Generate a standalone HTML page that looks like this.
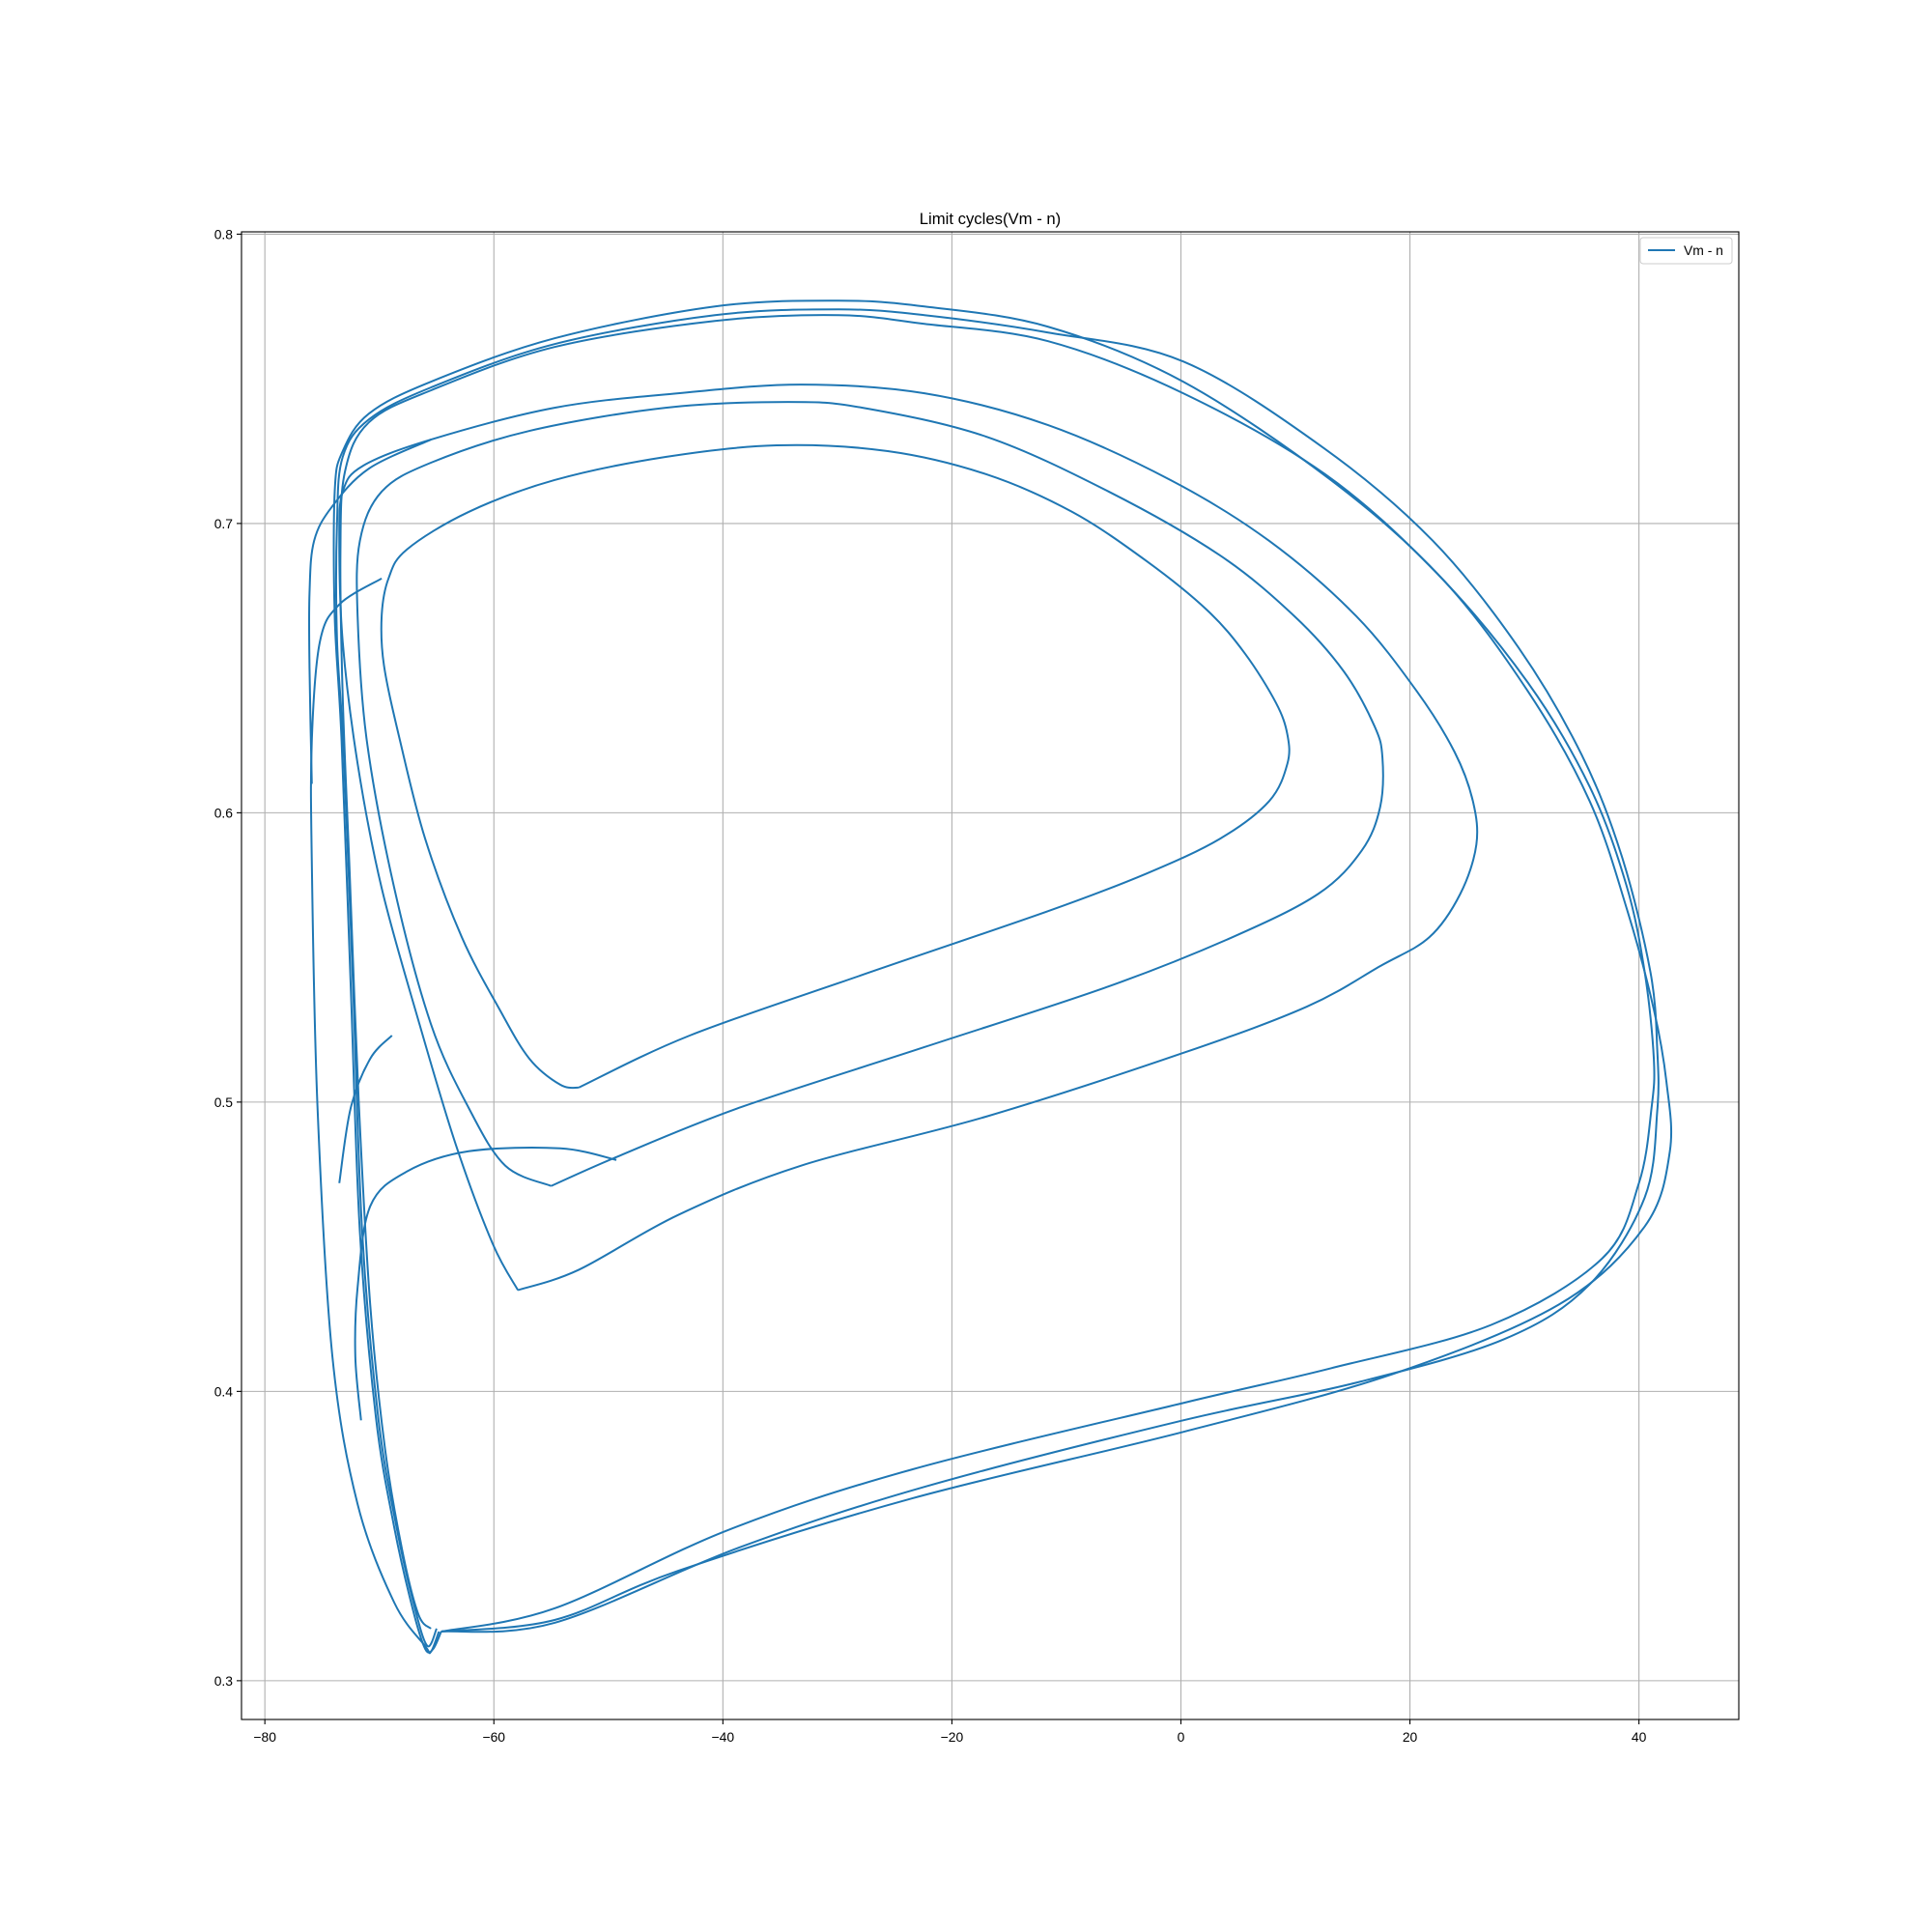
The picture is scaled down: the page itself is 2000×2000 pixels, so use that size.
<!DOCTYPE html>
<html><head><meta charset="utf-8"><style>
html,body{margin:0;padding:0;background:#fff;}
svg{display:block;font-family:"Liberation Sans","DejaVu Sans",sans-serif;}
</style></head><body>
<svg id="chart" width="2000" height="2000" xmlns="http://www.w3.org/2000/svg">
<rect width="2000" height="2000" fill="#fff"/>
<g id="grid"></g>
<g id="plot"></g>
<g id="axes"></g>
<text x="1025" y="232" text-anchor="middle" font-size="16.7">Limit cycles(Vm - n)</text>
<g>
<rect x="1698" y="246" width="95" height="27" fill="#fff" stroke="#ccc" rx="3"/>
<line x1="1706" y1="259" x2="1734" y2="259" stroke="#1f77b4" stroke-width="2"/>
<text x="1743" y="264" font-size="13.9">Vm - n</text>
</g>
</svg>
<script>
const xTicks=[-80,-60,-40,-20,0,20,40];
const yTicks=[0.3,0.4,0.5,0.6,0.7,0.8];
const xTickLabels=["−80","−60","−40","−20","0","20","40"];
const yTickLabels=["0.3","0.4","0.5","0.6","0.7","0.8"];
// outermost cycle (lowest bottom path)
const loopCV=[-64.6,-54.7,-43.9,-23.5,0.2,18.5,33.0,40.5,42.7,42.4,41.3,39.0,35.7,30.3,22.8,13.1,0.2,-11.6,-22.4,-29.9,-40.7,-54.7,-65.5,-70.9,-73.2,-73.9,-73.9,-73.3,-72.5,-71.7,-70.3,-68.7,-67.1,-66.0,-65.3,-64.6];
const loopCN=[0.317,0.321,0.338,0.363,0.386,0.406,0.430,0.457,0.483,0.507,0.532,0.566,0.604,0.642,0.681,0.715,0.749,0.768,0.775,0.777,0.775,0.764,0.749,0.738,0.725,0.711,0.668,0.625,0.540,0.455,0.391,0.353,0.325,0.311,0.311,0.317];
const loopBV=[-64.6,-54.7,-38.6,-22.4,0.2,15.3,28.2,35.7,40.5,41.6,41.6,41.0,38.5,35.0,29.5,22.0,12.5,0.2,-11.6,-22.4,-29.9,-40.7,-54.7,-65.5,-70.9,-73.2,-73.7,-73.7,-73.1,-72.3,-71.5,-70.1,-68.5,-66.9,-65.8,-65.0];
const loopBN=[0.317,0.320,0.346,0.367,0.390,0.403,0.418,0.437,0.467,0.497,0.518,0.545,0.585,0.620,0.657,0.694,0.726,0.756,0.766,0.772,0.774,0.772,0.762,0.747,0.736,0.723,0.700,0.660,0.620,0.540,0.455,0.391,0.353,0.325,0.312,0.318];
const loopAV=[-64.6,-54.7,-39.6,-23.5,0.2,13.1,27.1,36.8,40.0,41.1,41.3,40.5,38.9,35.7,30.3,22.3,12.6,0.2,-11.6,-22.4,-29.9,-40.7,-54.7,-65.5,-70.9,-73.0,-73.4,-73.2,-72.6,-71.8,-70.8,-69.5,-68.0,-66.6,-65.5];
const loopAN=[0.317,0.325,0.352,0.373,0.396,0.408,0.423,0.446,0.472,0.498,0.515,0.545,0.575,0.609,0.645,0.683,0.717,0.745,0.763,0.769,0.772,0.770,0.761,0.746,0.735,0.718,0.690,0.640,0.580,0.500,0.430,0.380,0.345,0.323,0.318];
// inner cycles
const loop4V=[-57.9,-52.6,-43.9,-33.2,-17.0,0.2,11.0,17.4,21.7,24.4,25.8,25.5,23.9,20.6,15.3,7.7,-0.9,-11.6,-22.4,-33.2,-43.9,-54.7,-65.5,-71.4,-73.2,-73.5,-73.2,-71.9,-69.8,-66.5,-63.3,-60.1,-57.9];
const loop4N=[0.435,0.442,0.461,0.478,0.495,0.517,0.533,0.547,0.557,0.572,0.589,0.604,0.621,0.642,0.668,0.694,0.715,0.734,0.745,0.748,0.745,0.740,0.729,0.720,0.711,0.694,0.659,0.617,0.574,0.527,0.485,0.451,0.435];
const loop5V=[-55.0,-49.3,-38.6,-22.4,-6.3,4.5,12.0,15.8,17.4,17.6,16.9,14.2,9.9,3.4,-6.3,-17.0,-27.8,-34.3,-45.0,-56.9,-65.5,-69.8,-71.7,-71.9,-71.1,-68.7,-65.5,-62.2,-59.0,-55.0];
const loop5N=[0.471,0.481,0.498,0.519,0.540,0.557,0.572,0.587,0.602,0.619,0.630,0.649,0.668,0.689,0.711,0.730,0.740,0.742,0.740,0.732,0.721,0.711,0.694,0.668,0.625,0.574,0.527,0.498,0.478,0.471];
const loop6V=[-52.6,-42.9,-27.8,-11.6,-3.0,3.4,7.7,9.3,9.3,8.3,5.6,2.3,-3.0,-9.5,-17.0,-25.6,-35.3,-45.0,-54.7,-62.2,-67.6,-69.2,-69.8,-69.6,-68.2,-66.0,-62.8,-59.5,-56.9,-54.2,-52.6];
const loop6N=[0.505,0.523,0.544,0.566,0.579,0.591,0.604,0.617,0.627,0.638,0.655,0.670,0.687,0.704,0.717,0.725,0.727,0.723,0.715,0.704,0.691,0.681,0.668,0.651,0.625,0.591,0.557,0.532,0.515,0.506,0.505];
// transients
const transV=[-69.8,-73.5,-75.2,-75.9,-75.9,-75.4,-74.1,-71.9,-68.7,-66.0,-65.5,-64.8];
const transN=[0.681,0.672,0.659,0.625,0.583,0.498,0.412,0.361,0.327,0.312,0.310,0.317];
const trans2V=[-65.5,-70.9,-74.1,-75.7,-76.1,-76.1,-75.9];
const trans2N=[0.729,0.719,0.706,0.694,0.676,0.650,0.610];
const trans3V=[-68.9,-70.8,-72.5,-73.5];
const trans3N=[0.523,0.515,0.498,0.472];
const trans4V=[-49.3,-54.2,-62.2,-67.6,-70.8,-71.9,-72.1,-71.6];
const trans4N=[0.480,0.484,0.483,0.476,0.464,0.436,0.412,0.390];
const series=[[loopCV,loopCN],[loopBV,loopBN],[loopAV,loopAN],[loop4V,loop4N],[loop5V,loop5N],[loop6V,loop6N],[transV,transN],[trans2V,trans2N],[trans3V,trans3N],[trans4V,trans4N]];
const L=250,R=1800,T=240,B=1780;
const xMin=-82.04,xMax=48.72,yMin=0.2866,yMax=0.8008;
function sx(v){return L+(v-xMin)/(xMax-xMin)*(R-L);}
function sy(v){return B-(v-yMin)/(yMax-yMin)*(B-T);}
const NS="http://www.w3.org/2000/svg";
const grid=document.getElementById('grid'),axes=document.getElementById('axes'),plot=document.getElementById('plot');
function mk(tag,attrs,parent){const e=document.createElementNS(NS,tag);for(const k in attrs)e.setAttribute(k,attrs[k]);parent.appendChild(e);return e;}
xTicks.forEach((t,i)=>{const x=sx(t);
 const g=mk('line',{x1:x,x2:x,y1:T,y2:B,stroke:'#b0b0b0','stroke-width':1.1},grid);
 
 
 const tk=mk('line',{x1:x,x2:x,y1:B,y2:B+5,stroke:'#000','stroke-width':1.1},axes);
 
 
 const tx=mk('text',{x:x,y:B+23,'text-anchor':'middle','font-size':13.9},axes);tx.textContent=xTickLabels[i];
 
 });
yTicks.forEach((t,i)=>{const y=sy(t);
 const g=mk('line',{x1:L,x2:R,y1:y,y2:y,stroke:'#b0b0b0','stroke-width':1.1},grid);
 
 
 const tk=mk('line',{x1:L-5,x2:L,y1:y,y2:y,stroke:'#000','stroke-width':1.1},axes);
 
 
 const tx=mk('text',{x:L-9,y:y+5,'text-anchor':'end','font-size':13.9},axes);tx.textContent=yTickLabels[i];
 
 });
const frame=mk('rect',{x:L,y:T,width:R-L,height:B-T,fill:'none',stroke:'#000','stroke-width':1.1},axes);


series.forEach(([vs,ns])=>{
 let d='';
 for(let i=0;i<vs.length;i++){const x=sx(vs[i]),y=sy(ns[i]);
  if(i===0){d+='M'+x+','+y;}
  else{const x0=sx(vs[i-1]),y0=sy(ns[i-1]);
   const xp=i>1?sx(vs[i-2]):x0,yp=i>1?sy(ns[i-2]):y0;
   const xn=i<vs.length-1?sx(vs[i+1]):x,yn=i<vs.length-1?sy(ns[i+1]):y;
   const c1x=x0+(x-xp)/6,c1y=y0+(y-yp)/6,c2x=x-(xn-x0)/6,c2y=y-(yn-y0)/6;
   d+=' C'+c1x+','+c1y+' '+c2x+','+c2y+' '+x+','+y;}}
 const p=mk('path',{d:d,fill:'none',stroke:'#1f77b4','stroke-width':2,'stroke-linejoin':'round'},plot);
 
 
});
</script>
</body></html>
